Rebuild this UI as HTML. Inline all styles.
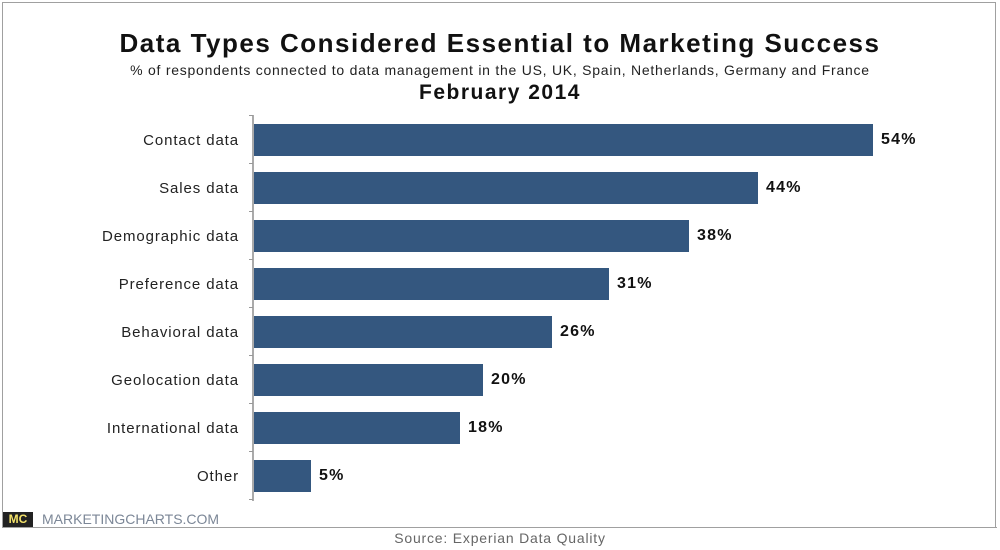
<!DOCTYPE html>
<html><head><style>
body{margin:0;width:1000px;height:550px;background:#fff;font-family:"Liberation Sans",Arial,sans-serif;position:relative;overflow:hidden}
.frame{position:absolute;left:2px;top:2px;width:994px;height:525px;border:1px solid #a0a0a0;border-bottom:none;box-sizing:border-box}
.bline{position:absolute;left:2px;top:527px;width:995px;height:1px;background:#a0a0a0}
.t{position:absolute;left:0;width:1000px;text-align:center;white-space:nowrap}
.lbl{position:absolute;right:761px;font-size:15px;letter-spacing:0.9px;color:#222;text-align:right;white-space:nowrap}
.bar{position:absolute;left:254px;height:32px;background:#34577f}
.val{position:absolute;font-size:16px;letter-spacing:1.2px;font-weight:bold;color:#111}
.tick{position:absolute;left:249px;width:4px;height:1px;background:#999}
</style></head><body>
<div class="frame"></div><div class="bline"></div>
<div class="t" style="top:28px;font-size:26px;letter-spacing:1.5px;font-weight:bold;color:#111">Data Types Considered Essential to Marketing Success</div>
<div class="t" style="top:62px;font-size:14px;letter-spacing:0.75px;color:#222">% of respondents connected to data management in the US, UK, Spain, Netherlands, Germany and France</div>
<div class="t" style="top:81px;font-size:21px;letter-spacing:1.5px;font-weight:bold;color:#111">February 2014</div>
<div style="position:absolute;left:252px;top:115px;width:2px;height:386px;background:#aaa"></div>
<div class="tick" style="top:115px"></div><div class="tick" style="top:163px"></div><div class="tick" style="top:211px"></div><div class="tick" style="top:259px"></div><div class="tick" style="top:307px"></div><div class="tick" style="top:355px"></div><div class="tick" style="top:403px"></div><div class="tick" style="top:451px"></div><div class="tick" style="top:499px"></div>

<div class="lbl" style="top:132px">Contact data</div><div class="bar" style="top:124px;width:619px"></div><div class="val" style="left:881px;top:131px">54%</div>
<div class="lbl" style="top:180px">Sales data</div><div class="bar" style="top:172px;width:504px"></div><div class="val" style="left:766px;top:179px">44%</div>
<div class="lbl" style="top:228px">Demographic data</div><div class="bar" style="top:220px;width:435px"></div><div class="val" style="left:697px;top:227px">38%</div>
<div class="lbl" style="top:276px">Preference data</div><div class="bar" style="top:268px;width:355px"></div><div class="val" style="left:617px;top:275px">31%</div>
<div class="lbl" style="top:324px">Behavioral data</div><div class="bar" style="top:316px;width:298px"></div><div class="val" style="left:560px;top:323px">26%</div>
<div class="lbl" style="top:372px">Geolocation data</div><div class="bar" style="top:364px;width:229px"></div><div class="val" style="left:491px;top:371px">20%</div>
<div class="lbl" style="top:420px">International data</div><div class="bar" style="top:412px;width:206px"></div><div class="val" style="left:468px;top:419px">18%</div>
<div class="lbl" style="top:468px">Other</div><div class="bar" style="top:460px;width:57px"></div><div class="val" style="left:319px;top:467px">5%</div>

<div style="position:absolute;left:3px;top:512px;width:30px;height:15px;background:#222;color:#f3e26a;font-size:12px;font-weight:bold;text-align:center;line-height:15px">MC</div>
<div style="position:absolute;left:42px;top:511px;font-size:14px;color:#7c8797">MARKETINGCHARTS.COM</div>
<div class="t" style="top:530px;font-size:14px;letter-spacing:0.8px;color:#666">Source: Experian Data Quality</div>
</body></html>
